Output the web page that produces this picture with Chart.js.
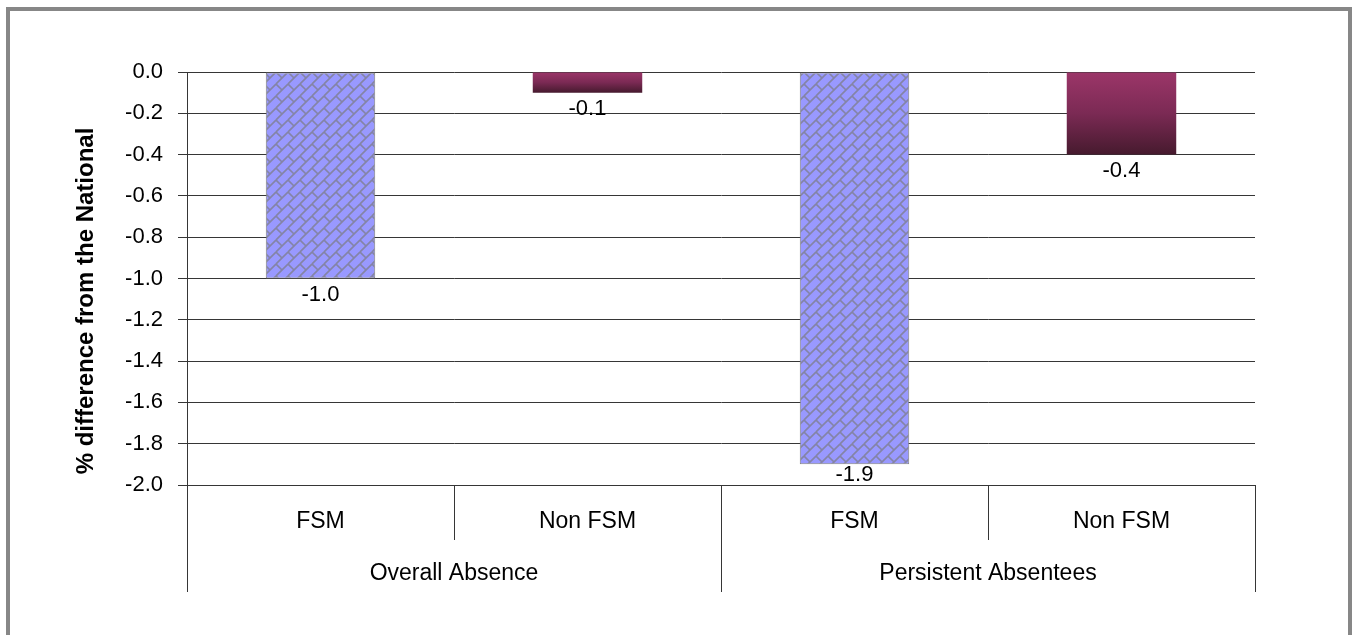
<!DOCTYPE html>
<html>
<head>
<meta charset="utf-8">
<script src="https://cdn.jsdelivr.net/npm/chart.js@4/dist/chart.umd.min.js"></script>
<style>
  html, body { margin: 0; padding: 0; background: #ffffff; }
  #wrap { position: relative; width: 1353px; height: 635px; overflow: hidden; }
  #wrap canvas { position: absolute; left: 0; top: 0; }
  #frame { position: absolute; left: 6px; top: 7px; width: 1338px; height: 700px;
           border: 4px solid #878787; pointer-events: none; }
</style>
</head>
<body>
<div id="wrap">
  <canvas id="chart" width="1353" height="635"></canvas>
  <div id="frame"></div>
</div>
<script>
// Absence figures, grouped by measure, split by free-school-meal eligibility
const groups = ['Overall Absence', 'Persistent Absentees'];
const categories = ['FSM', 'Non FSM', 'FSM', 'Non FSM'];
const values = [-1.0, -0.1, -1.9, -0.4];
const yTicks = [0.0, -0.2, -0.4, -0.6, -0.8, -1.0, -1.2, -1.4, -1.6, -1.8, -2.0];
const yTitle = '% difference from the National';

const FONT = '"Liberation Sans", Arial, sans-serif';
const LINE = '#363636';

// Diagonal brick fill used for the FSM bars
function brickPattern() {
  const s = 12;
  const c = document.createElement('canvas');
  c.width = s; c.height = s;
  const g = c.getContext('2d');
  g.fillStyle = '#9999ff';
  g.fillRect(0, 0, s, s);
  g.strokeStyle = '#8484a6';
  g.lineWidth = 1.6;
  for (const dx of [-s, 0, s]) {
    for (const dy of [-s, 0, s]) {
      g.beginPath();
      g.moveTo(dx, dy + s); g.lineTo(dx + s, dy);
      g.moveTo(dx, dy); g.lineTo(dx + s / 2, dy + s / 2);
      g.stroke();
    }
  }
  return g.createPattern(c, 'repeat');
}

const ctx = document.getElementById('chart').getContext('2d');
const bricks = brickPattern();

function barFill(context) {
  const i = context.dataIndex;
  if (categories[i] === 'FSM') return bricks;
  const chart = context.chart;
  const ys = chart.scales && chart.scales.y;
  if (!ys) return '#7a2953';
  const top = ys.getPixelForValue(0);
  const bottom = ys.getPixelForValue(values[i]);
  if (!isFinite(top) || !isFinite(bottom) || top === bottom) return '#7a2953';
  const grad = chart.ctx.createLinearGradient(0, top, 0, bottom);
  grad.addColorStop(0, '#9c3669');
  grad.addColorStop(0.5, '#7b2a54');
  grad.addColorStop(1, '#461a2e');
  return grad;
}

// Two-level category axis, value labels and rotated axis title
const decorations = {
  id: 'decorations',
  afterDraw(chart) {
    const g = chart.ctx;
    const xs = chart.scales.x;
    const area = chart.chartArea;
    const step = (xs.right - xs.left) / categories.length;

    g.save();
    g.strokeStyle = LINE;
    g.lineWidth = 1;
    for (let i = 0; i <= categories.length; i++) {
      const x = Math.round(xs.left + i * step) + 0.5;
      const end = (i % 2 === 0) ? area.bottom + 107 : area.bottom + 55;
      g.beginPath();
      g.moveTo(x, area.bottom);
      g.lineTo(x, end);
      g.stroke();
    }

    g.fillStyle = '#000000';
    g.font = '23px ' + FONT;
    g.textAlign = 'center';
    g.textBaseline = 'middle';
    categories.forEach((label, i) => {
      g.fillText(label, xs.getPixelForValue(i), area.bottom + 37);
    });
    groups.forEach((label, k) => {
      const x = (xs.getPixelForValue(2 * k) + xs.getPixelForValue(2 * k + 1)) / 2;
      g.fillText(label, x, area.bottom + 89);
    });

    // value labels under each bar end, kept inside the plot area
    const meta = chart.getDatasetMeta(0);
    g.font = '22px ' + FONT;
    g.textBaseline = 'top';
    meta.data.forEach((bar, i) => {
      const y = Math.min(bar.y + 5, area.bottom - 21);
      g.fillText(values[i].toFixed(1), bar.x, y);
    });

    // y-axis title
    g.font = 'bold 24px ' + FONT;
    g.translate(86, 301);
    g.rotate(-Math.PI / 2);
    g.textBaseline = 'middle';
    g.fillText(yTitle, 0, 0);
    g.restore();
  }
};

new Chart(ctx, {
  type: 'bar',
  data: {
    labels: categories,
    datasets: [{
      data: values,
      backgroundColor: barFill,
      borderColor: (c) => categories[c.dataIndex] === 'FSM' ? '#808080' : 'rgba(0,0,0,0)',
      borderWidth: (c) => categories[c.dataIndex] === 'FSM' ? 1 : 0,
      borderSkipped: false,
      barPercentage: 0.41,
      categoryPercentage: 1.0
    }]
  },
  options: {
    responsive: false,
    animation: false,
    devicePixelRatio: 1,
    layout: { padding: { left: 10, right: 98, top: 72, bottom: 150 } },
    plugins: {
      legend: { display: false },
      tooltip: { enabled: false }
    },
    scales: {
      x: { display: false },
      y: {
        min: -2.0,
        max: 0.0,
        afterBuildTicks: (scale) => { scale.ticks = yTicks.map(v => ({ value: v })); },
        afterFit: (scale) => { scale.width = 177; },
        grid: { color: LINE, lineWidth: 1, tickLength: 9, drawTicks: true },
        border: { color: LINE, width: 1 },
        ticks: {
          color: '#000000',
          padding: 15,
          font: { family: FONT, size: 22 },
          callback: (v) => Number(v).toFixed(1)
        }
      }
    }
  },
  plugins: [decorations]
});
</script>
</body>
</html>
